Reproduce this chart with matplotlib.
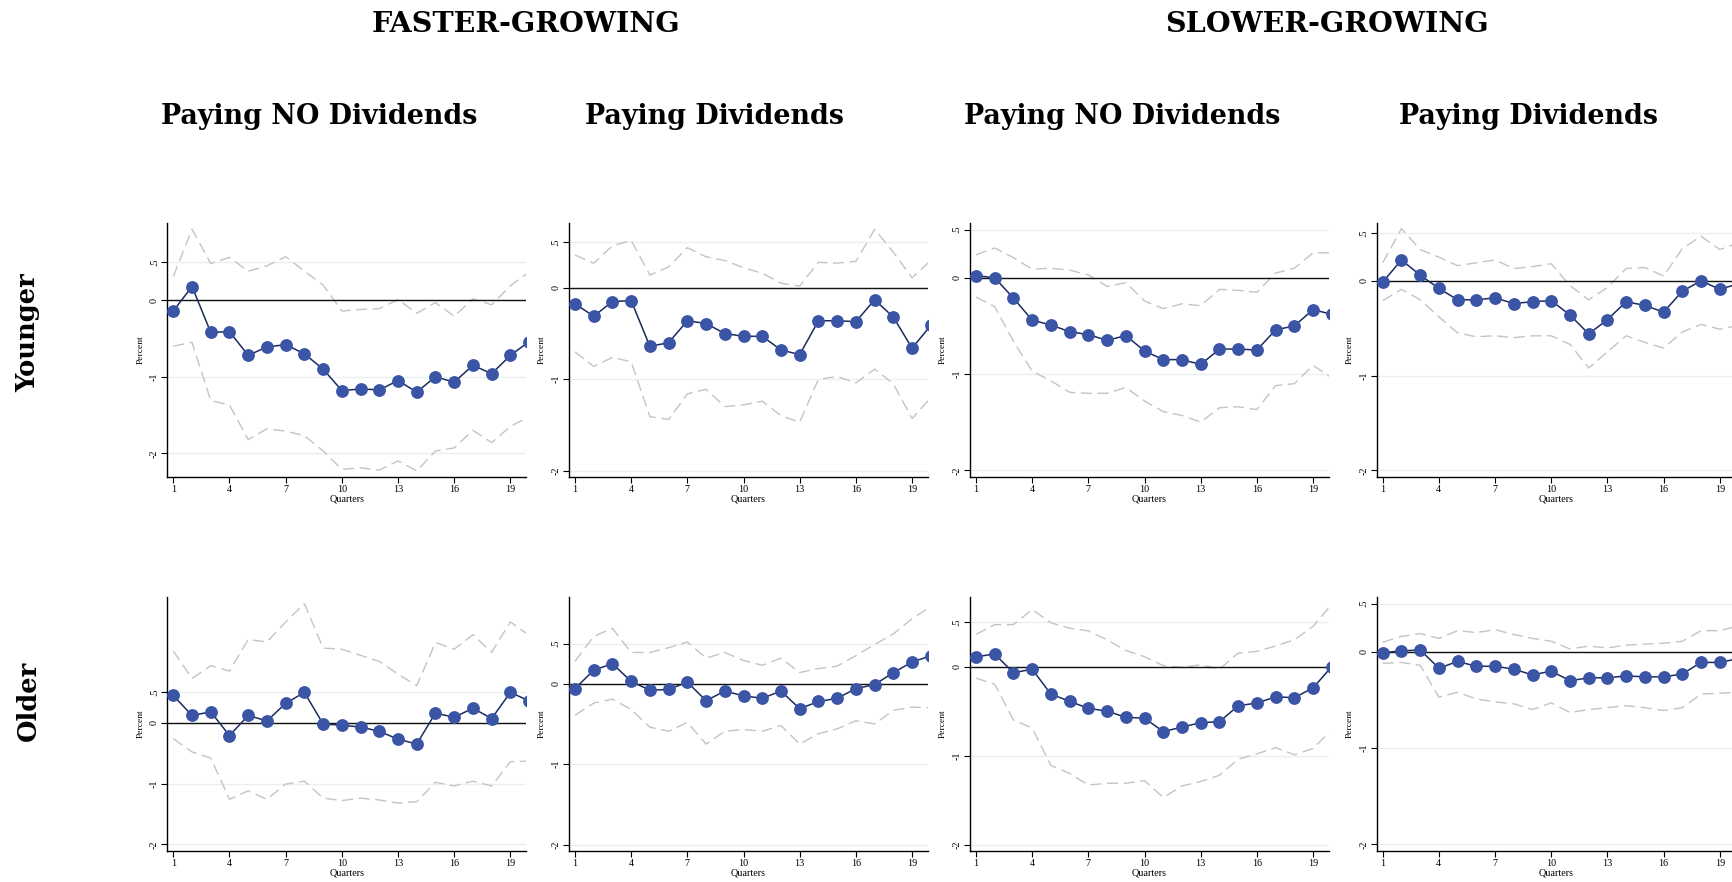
import numpy as np
import matplotlib
matplotlib.use("Agg")
import matplotlib.pyplot as plt

quarters = list(range(1, 21))

# ---- Top row: Younger ----
fy_nodiv_pt = [-0.14, 0.18, -0.42, -0.41, -0.72, -0.61, -0.58, -0.70, -0.90, -1.18,
               -1.16, -1.17, -1.05, -1.20, -1.00, -1.07, -0.85, -0.96, -0.72, -0.54]
fy_nodiv_hi = [0.31, 0.93, 0.48, 0.56, 0.38, 0.45, 0.57, 0.38, 0.20, -0.14,
               -0.12, -0.11, 0.01, -0.17, -0.03, -0.21, 0.02, -0.06, 0.19, 0.37]
fy_nodiv_lo = [-0.60, -0.55, -1.31, -1.37, -1.82, -1.68, -1.71, -1.77, -1.97, -2.21,
               -2.19, -2.22, -2.10, -2.23, -1.97, -1.93, -1.70, -1.86, -1.65, -1.52]

fy_div_pt = [-0.175, -0.31, -0.15, -0.14, -0.64, -0.60, -0.36, -0.39, -0.50, -0.53,
             -0.53, -0.68, -0.73, -0.36, -0.36, -0.37, -0.13, -0.32, -0.66, -0.41]
fy_div_hi = [0.36, 0.27, 0.46, 0.52, 0.14, 0.23, 0.44, 0.34, 0.30, 0.22,
             0.16, 0.05, 0.02, 0.28, 0.27, 0.29, 0.64, 0.39, 0.11, 0.30]
fy_div_lo = [-0.70, -0.86, -0.76, -0.81, -1.41, -1.44, -1.16, -1.11, -1.30, -1.28,
             -1.24, -1.40, -1.47, -1.00, -0.97, -1.04, -0.89, -1.05, -1.43, -1.20]

sy_nodiv_pt = [0.024, 0.00, -0.21, -0.44, -0.49, -0.56, -0.59, -0.65, -0.60, -0.76,
               -0.85, -0.85, -0.90, -0.74, -0.74, -0.75, -0.54, -0.50, -0.33, -0.38]
sy_nodiv_hi = [0.24, 0.31, 0.21, 0.09, 0.10, 0.08, 0.03, -0.09, -0.05, -0.24,
               -0.32, -0.27, -0.29, -0.12, -0.13, -0.15, 0.05, 0.10, 0.26, 0.26]
sy_nodiv_lo = [-0.20, -0.30, -0.66, -0.97, -1.07, -1.19, -1.20, -1.20, -1.14, -1.28,
               -1.39, -1.43, -1.50, -1.35, -1.34, -1.37, -1.12, -1.10, -0.91, -1.04]

sy_div_pt = [-0.014, 0.22, 0.06, -0.08, -0.20, -0.20, -0.18, -0.24, -0.22, -0.21,
             -0.36, -0.56, -0.41, -0.22, -0.26, -0.33, -0.11, 0.00, -0.09, -0.03]
sy_div_hi = [0.19, 0.55, 0.33, 0.25, 0.16, 0.19, 0.22, 0.13, 0.15, 0.18,
             -0.05, -0.20, -0.07, 0.13, 0.14, 0.05, 0.34, 0.47, 0.33, 0.40]
sy_div_lo = [-0.21, -0.09, -0.20, -0.38, -0.55, -0.59, -0.58, -0.60, -0.58, -0.58,
             -0.67, -0.92, -0.75, -0.58, -0.65, -0.71, -0.54, -0.46, -0.51, -0.47]

# ---- Bottom row: Older ----
fo_nodiv_pt = [0.45, 0.12, 0.18, -0.21, 0.12, 0.03, 0.32, 0.50, -0.02, -0.04,
               -0.07, -0.14, -0.27, -0.35, 0.16, 0.09, 0.24, 0.07, 0.50, 0.36]
fo_nodiv_hi = [1.18, 0.73, 0.94, 0.85, 1.37, 1.33, 1.66, 1.96, 1.23, 1.21,
               1.11, 1.01, 0.80, 0.61, 1.32, 1.21, 1.45, 1.16, 1.66, 1.44]
fo_nodiv_lo = [-0.26, -0.48, -0.58, -1.26, -1.12, -1.26, -1.01, -0.96, -1.24, -1.28,
               -1.24, -1.27, -1.32, -1.30, -0.98, -1.04, -0.96, -1.04, -0.64, -0.63]

fo_div_pt = [-0.06, 0.17, 0.25, 0.03, -0.08, -0.07, 0.02, -0.21, -0.09, -0.15,
             -0.18, -0.09, -0.31, -0.22, -0.18, -0.06, -0.01, 0.14, 0.27, 0.35]
fo_div_hi = [0.28, 0.59, 0.69, 0.39, 0.39, 0.45, 0.52, 0.32, 0.39, 0.29,
             0.23, 0.32, 0.14, 0.19, 0.22, 0.35, 0.49, 0.62, 0.81, 0.96]
fo_div_lo = [-0.39, -0.24, -0.19, -0.32, -0.54, -0.59, -0.48, -0.75, -0.59, -0.57,
             -0.59, -0.52, -0.75, -0.62, -0.56, -0.46, -0.50, -0.33, -0.29, -0.30]

so_nodiv_pt = [0.11, 0.14, -0.07, -0.03, -0.31, -0.39, -0.47, -0.50, -0.57, -0.58,
               -0.73, -0.68, -0.63, -0.62, -0.44, -0.41, -0.34, -0.35, -0.24, 0.00]
so_nodiv_hi = [0.36, 0.47, 0.47, 0.64, 0.49, 0.43, 0.40, 0.30, 0.18, 0.11,
               0.01, -0.01, 0.02, -0.03, 0.15, 0.17, 0.23, 0.30, 0.45, 0.70]
so_nodiv_lo = [-0.13, -0.20, -0.60, -0.69, -1.11, -1.20, -1.33, -1.31, -1.31, -1.28,
               -1.47, -1.34, -1.29, -1.22, -1.04, -0.98, -0.91, -0.99, -0.92, -0.71]

so_div_pt = [-0.01, 0.01, 0.02, -0.17, -0.10, -0.15, -0.15, -0.18, -0.24, -0.20,
             -0.30, -0.27, -0.27, -0.25, -0.26, -0.26, -0.23, -0.11, -0.11, -0.07]
so_div_hi = [0.10, 0.16, 0.19, 0.14, 0.22, 0.20, 0.23, 0.18, 0.14, 0.11,
             0.03, 0.06, 0.04, 0.07, 0.08, 0.09, 0.11, 0.22, 0.22, 0.27]
so_div_lo = [-0.12, -0.11, -0.14, -0.47, -0.42, -0.49, -0.52, -0.54, -0.60, -0.53,
             -0.63, -0.60, -0.58, -0.56, -0.58, -0.61, -0.58, -0.44, -0.43, -0.42]

ytick_vals = [-2, -1, 0, 0.5]
ytick_labels = ["-2", "-1", "0", ".5"]
xtick_vals = [1, 4, 7, 10, 13, 16, 19]

col_titles = ["Paying NO Dividends", "Paying Dividends", "Paying NO Dividends", "Paying Dividends"]
group_titles = ["FASTER-GROWING", "SLOWER-GROWING"]
row_titles = ["Younger", "Older"]

panels = [
    [(fy_nodiv_pt, fy_nodiv_hi, fy_nodiv_lo), (fy_div_pt, fy_div_hi, fy_div_lo),
     (sy_nodiv_pt, sy_nodiv_hi, sy_nodiv_lo), (sy_div_pt, sy_div_hi, sy_div_lo)],
    [(fo_nodiv_pt, fo_nodiv_hi, fo_nodiv_lo), (fo_div_pt, fo_div_hi, fo_div_lo),
     (so_nodiv_pt, so_nodiv_hi, so_nodiv_lo), (so_div_pt, so_div_hi, so_div_lo)],
]
ylims = [
    [(-2.31, 1.01), (-2.07, 0.71), (-2.07, 0.57), (-2.07, 0.61)],
    [(-2.11, 2.07), (-2.08, 1.08), (-2.07, 0.78), (-2.07, 0.57)],
]

W, H = 1733, 882
fig = plt.figure(figsize=(W / 100, H / 100), dpi=100)
fig.patch.set_facecolor("white")

col_left = [167.3, 569.0, 970.0, 1376.7]
ax_w = 359.0
row_top = [223.0, 597.0]
ax_h = 254.0

tick_font = dict(family="Liberation Serif", size=7.3)
title_font = "DejaVu Serif"

for r in range(2):
    for c in range(4):
        ax = fig.add_axes([col_left[c] / W, 1 - (row_top[r] + ax_h) / H, ax_w / W, ax_h / H])
        pt, hi, lo = panels[r][c]
        for v in ytick_vals:
            ax.axhline(v, color="#e8f0f1", lw=1.0, zorder=0)
        ax.plot(quarters, hi, color="#c4c4c4", lw=1.0, dashes=(8, 4), zorder=2)
        ax.plot(quarters, lo, color="#c4c4c4", lw=1.0, dashes=(8, 4), zorder=2)
        ax.axhline(0, color="#111111", lw=1.0, zorder=3)
        ax.plot(quarters, pt, color="#1c2a5e", lw=1.1, marker="o", markersize=8.2,
                markerfacecolor="#3a54a6", markeredgecolor="#3a54a6", zorder=4)
        ax.set_xlim(0.68, 19.85)
        ax.set_ylim(*ylims[r][c])
        ax.set_xticks(xtick_vals)
        ax.set_xticklabels([str(v) for v in xtick_vals], fontdict=tick_font)
        ax.set_yticks(ytick_vals)
        ax.set_yticklabels(ytick_labels, fontdict=tick_font, rotation=90, va="center")
        ax.tick_params(axis="both", length=4, width=0.8, color="black", pad=2)
        for s in ["top", "right"]:
            ax.spines[s].set_visible(False)
        for s in ["left", "bottom"]:
            ax.spines[s].set_linewidth(1.0)
            ax.spines[s].set_color("black")
        ax.set_xlabel("Quarters", fontdict=tick_font, labelpad=0)
        ax.set_ylabel("Percent", fontdict=dict(family="Liberation Serif", size=6.8), labelpad=4)
        ax.set_facecolor("white")

# Titles
for x, t in zip([525.5, 1327.0], group_titles):
    fig.text(x / W, 1 - 24.3 / H, t, ha="center", va="center", family=title_font,
             weight="bold", size=20.5)
for x, t in zip([319.4, 715.0, 1121.8, 1528.4], col_titles):
    fig.text(x / W, 1 - 116.0 / H, t, ha="center", va="center", family=title_font,
             weight="bold", size=19.4)
for y, t in zip([333.0, 701.0], row_titles):
    fig.text(28.0 / W, 1 - y / H, t, ha="center", va="center", rotation=90,
             family=title_font, weight="bold", size=18.5)

fig.savefig("out.png", dpi=100, facecolor="white")
